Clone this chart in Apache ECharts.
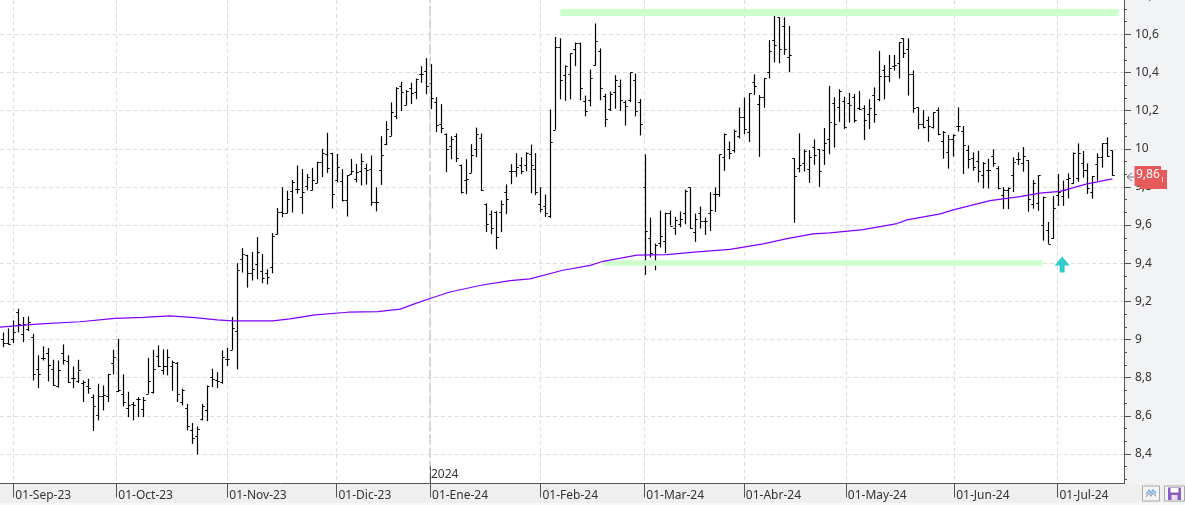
<!DOCTYPE html>
<html><head><meta charset="utf-8">
<style>html,body{margin:0;padding:0;background:#f2f3f5;overflow:hidden}#c{width:1185px;height:505px}</style>
<script src="https://cdn.jsdelivr.net/npm/echarts@6/dist/echarts.min.js"></script>
</head><body><div id="c"></div>
<script>
var highs=[9.037,9.058,9.100,9.161,9.118,9.121,9.030,8.917,8.964,8.955,8.894,8.890,8.974,8.917,8.859,8.894,8.785,8.794,8.712,8.768,8.759,8.820,8.946,9.004,8.817,8.726,8.672,8.698,8.698,8.904,8.946,8.969,8.948,8.948,8.890,8.882,8.742,8.663,8.562,8.544,8.663,8.759,8.847,8.829,8.943,8.957,9.118,9.400,
9.479,9.444,9.459,9.537,9.449,9.368,9.558,9.689,9.798,9.780,9.837,9.912,9.894,9.868,9.900,9.931,10.000,10.084,9.979,9.973,9.894,9.861,9.947,9.921,9.975,9.922,9.965,9.798,
10.066,10.145,10.243,10.323,10.351,10.307,10.346,10.368,10.433,10.475,10.444,10.271,10.234,10.080,10.066,10.080,9.917,9.945,10.024,10.111,10.080,9.713,9.676,9.673,9.729,9.813,9.919,9.977,9.956,9.982,10.022,9.977,9.799,9.760,10.206,
10.586,10.579,10.438,10.501,10.557,10.557,10.279,10.415,10.657,10.526,10.289,10.300,10.386,10.363,10.254,10.400,10.394,10.261,
9.971,9.639,9.503,9.676,9.665,9.676,9.643,9.671,9.786,9.797,9.660,9.697,9.639,9.772,9.797,9.970,10.080,10.038,10.101,10.216,10.269,10.290,
10.390,10.282,10.369,10.570,10.710,10.689,10.689,10.644,9.950,10.081,9.997,9.993,10.049,9.997,10.109,10.329,
10.270,10.312,10.273,10.293,10.287,10.303,10.228,10.259,10.322,10.513,10.439,10.492,10.492,10.558,10.579,10.579,10.411,10.217,10.203,10.169,10.191,10.217,10.093,10.072,10.076,10.217,
10.119,10.018,9.981,9.990,9.930,9.948,9.997,9.909,9.798,9.798,9.955,9.981,10.009,9.941,9.836,9.862,9.749,9.616,9.752,9.868,9.833,9.871,9.981,10.028,9.988,9.923,9.857,9.976,10.028,10.060,9.992];
var lows=[8.960,8.974,8.981,9.037,8.986,9.044,8.785,8.745,8.890,8.780,8.756,8.747,8.869,8.772,8.745,8.772,8.672,8.716,8.520,8.576,8.628,8.672,8.817,8.724,8.649,8.593,8.576,8.593,8.593,8.716,8.716,8.855,8.817,8.812,8.730,8.672,8.654,8.523,8.453,8.397,8.576,8.572,8.750,8.745,8.768,8.861,8.946,8.843,
9.351,9.272,9.309,9.316,9.295,9.289,9.347,9.552,9.642,9.663,9.666,9.765,9.659,9.782,9.782,9.821,9.852,9.873,9.687,9.824,9.724,9.645,9.865,9.824,9.808,9.812,9.701,9.672,
9.811,10.019,10.068,10.155,10.197,10.230,10.234,10.260,10.346,10.286,10.208,10.087,10.082,9.877,9.945,9.930,9.765,9.762,9.874,9.956,9.779,9.563,9.552,9.473,9.563,9.657,9.814,9.853,9.867,9.882,9.767,9.757,9.667,9.643,9.638,
10.100,10.259,10.251,10.259,10.433,10.254,10.170,10.222,10.435,10.254,10.114,10.198,10.210,10.198,10.122,10.244,10.170,10.070,
9.339,9.430,9.363,9.482,9.454,9.597,9.548,9.589,9.604,9.580,9.512,9.582,9.548,9.569,9.669,9.748,9.884,9.945,9.980,10.054,10.076,10.036,
10.282,9.958,10.215,10.369,10.453,10.448,10.492,10.401,9.612,9.876,9.880,9.822,9.916,9.801,9.916,9.971,
10.006,10.141,10.104,10.137,10.137,10.202,10.046,10.104,10.137,10.249,10.259,10.349,10.410,10.368,10.476,10.279,10.189,10.102,10.107,10.037,10.106,10.071,9.948,9.896,9.959,10.090,
9.868,9.897,9.885,9.824,9.792,9.792,9.906,9.787,9.684,9.684,9.773,9.915,9.880,9.670,9.686,9.675,9.518,9.502,9.528,9.701,9.701,9.740,9.815,9.827,9.848,9.763,9.738,9.833,9.901,9.957,9.859];
var opens=[9.004,8.983,9.004,9.144,9.030,9.056,9.013,8.847,8.904,8.931,8.847,8.756,8.931,8.885,8.799,8.784,8.772,8.756,8.700,8.602,8.702,8.702,8.878,8.730,8.716,8.642,8.663,8.689,8.637,8.716,8.726,8.911,8.841,8.859,8.859,8.878,8.672,8.642,8.527,8.494,8.581,8.632,8.803,8.789,8.777,8.897,8.946,9.046,
9.421,9.444,9.347,9.395,9.358,9.347,9.379,9.552,9.666,9.663,9.779,9.789,9.747,9.805,9.784,9.821,9.931,9.973,9.979,9.837,9.830,9.730,9.870,9.842,9.884,9.900,9.894,9.721,
9.888,10.026,10.068,10.174,10.328,10.230,10.321,10.298,10.391,10.409,10.347,10.243,10.132,10.080,10.017,10.068,9.917,9.834,9.875,9.998,10.054,9.713,9.660,9.671,9.666,9.774,9.881,9.884,9.914,9.917,9.970,9.896,9.708,9.699,9.650,
10.100,10.531,10.386,10.394,10.521,10.557,10.249,10.258,10.440,10.514,10.279,10.208,10.300,10.328,10.245,10.258,10.363,10.245,
9.797,9.534,9.409,9.508,9.519,9.665,9.583,9.604,9.665,9.797,9.566,9.665,9.620,9.665,9.765,9.765,9.959,10.001,9.991,10.069,10.169,10.090,
10.348,10.236,10.270,10.401,10.568,10.689,10.642,10.479,9.950,9.897,9.923,9.894,10.007,9.997,9.992,10.049,
10.238,10.217,10.249,10.238,10.270,10.212,10.214,10.181,10.280,10.259,10.411,10.380,10.432,10.448,10.579,10.522,10.391,10.217,10.128,10.149,10.116,10.202,10.039,9.981,10.050,10.118,
10.093,9.993,9.951,9.934,9.862,9.888,9.962,9.897,9.757,9.784,9.862,9.946,9.923,9.941,9.710,9.714,9.600,9.574,9.532,9.757,9.752,9.841,9.819,9.845,9.923,9.888,9.771,9.920,9.958,10.028,9.992];
var closes=[8.983,8.978,9.039,9.083,9.079,9.091,8.820,8.820,8.904,8.868,8.763,8.838,8.894,8.777,8.799,8.841,8.777,8.745,8.653,8.702,8.710,8.820,8.908,8.737,8.672,8.656,8.654,8.689,8.681,8.785,8.847,8.862,8.861,8.908,8.883,8.716,8.733,8.548,8.481,8.529,8.649,8.754,8.794,8.784,8.908,8.897,9.062,9.367,
9.447,9.347,9.368,9.458,9.321,9.326,9.542,9.668,9.663,9.737,9.826,9.789,9.773,9.852,9.837,9.931,9.979,9.900,9.761,9.905,9.730,9.861,9.884,9.879,9.936,9.889,9.721,9.721,
9.965,10.106,10.195,10.321,10.300,10.304,10.290,10.367,10.391,10.328,10.264,10.127,10.111,10.001,10.049,9.954,9.774,9.840,9.965,10.080,9.783,9.608,9.587,9.538,9.708,9.739,9.884,9.907,9.884,9.979,9.917,9.774,9.685,9.664,10.038,
10.536,10.363,10.435,10.500,10.557,10.321,10.198,10.373,10.563,10.321,10.158,10.286,10.358,10.258,10.226,10.400,10.198,10.131,
9.571,9.454,9.494,9.541,9.662,9.597,9.629,9.634,9.776,9.583,9.634,9.620,9.620,9.681,9.762,9.970,10.076,9.980,10.095,10.164,10.106,10.290,
10.327,10.271,10.369,10.511,10.542,10.521,10.521,10.492,9.855,9.913,9.990,9.955,9.967,9.882,10.028,10.138,
10.128,10.301,10.116,10.228,10.149,10.207,10.149,10.212,10.181,10.380,10.380,10.422,10.438,10.558,10.501,10.391,10.212,10.128,10.116,10.118,10.191,10.078,10.088,10.050,10.071,10.118,
10.018,9.944,9.906,9.885,9.923,9.888,9.923,9.796,9.784,9.792,9.930,9.944,9.962,9.736,9.820,9.862,9.749,9.502,9.687,9.775,9.784,9.845,9.979,9.979,9.888,9.792,9.857,9.955,10.028,9.962,9.861];
var maIndex=[-0.68,7.4,15.4,22.4,28.1,33.5,38.5,43,46.2,54.2,57.6,62.7,69.3,75.3,79.8,82.8,85.8,89.8,95.8,101.9,105.9,112.5,118,120.6,127.4,133.4,139.5,146.1,152.8,157.6,162.8,166.2,172.9,179.7,181.7,188.4,191,194.4,198.4,204.4,208.4,212.5,217.9,223];
var maValues=[9.065,9.082,9.093,9.111,9.116,9.124,9.115,9.103,9.098,9.098,9.108,9.129,9.143,9.146,9.159,9.188,9.215,9.249,9.283,9.309,9.318,9.363,9.389,9.410,9.442,9.445,9.459,9.473,9.501,9.529,9.554,9.559,9.576,9.608,9.627,9.659,9.680,9.702,9.728,9.749,9.767,9.777,9.816,9.842];
var monthPositions=[1.99,22.71,45.03,66.98,85.79,108.0,128.88,148.9,169.4,191.2,211.97];
var monthLabels=['01-Sep-23','01-Oct-23','01-Nov-23','01-Dic-23','01-Ene-24','01-Feb-24','01-Mar-24','01-Abr-24','01-May-24','01-Jun-24','01-Jul-24'];
var yearPosition=85.79, yearLabel='2024';
var yTicks=[8.4,8.6,8.8,9,9.2,9.4,9.6,9.8,10,10.2,10.4,10.6];
var clippedTopLabel='10,8';
var resistanceLevel=[112,224.3,10.717];
var supportLevel=[120.8,208.9,9.403];
var signalArrow=[212.9,9.393];
var lastPrice='9,86';

var yMin=8.245,yMax=10.78,xMin=-0.68,xMax=225.34;
var minorTicks=[8.2667,8.3333,10.6667,10.7333];
yTicks.forEach(function(t){if(t<10.6){minorTicks.push(+(t+0.0667).toFixed(4),+(t+0.1333).toFixed(4));}});

var ohlc=highs.map(function(h,i){return [i,opens[i],h,lows[i],closes[i]];});
var ma=maIndex.map(function(x,i){return [x,maValues[i]];});

function renderBar(params,api){
  var i=api.value(0);
  var x=Math.round(api.coord([i,api.value(2)])[0])+0.5;
  var yh=api.coord([i,api.value(2)])[1],yl=api.coord([i,api.value(3)])[1];
  var yo=Math.round(api.coord([i,api.value(1)])[1])+0.5,yc=Math.round(api.coord([i,api.value(4)])[1])+0.5;
  var st={stroke:'#000',lineWidth:1};
  return {type:'group',children:[
    {type:'line',shape:{x1:x,y1:yh,x2:x,y2:yl},style:{stroke:'#000',lineWidth:1.2}},
    {type:'line',shape:{x1:x-2.2,y1:yo,x2:x,y2:yo},style:st},
    {type:'line',shape:{x1:x,y1:yc,x2:x+2.2,y2:yc},style:st}
  ]};
}
var font='"Noto Sans",sans-serif';
var chart=echarts.init(document.getElementById('c'),null,{renderer:'canvas'});
var dashed={type:[4,3],color:'#dddddd',width:1};
chart.setOption({
  animation:false,
  backgroundColor:'#f2f3f5',
  textStyle:{fontFamily:font},
  grid:{left:0,right:61,top:0,bottom:21.5,show:true,backgroundColor:'#ffffff',borderWidth:0,containLabel:false},
  xAxis:{type:'value',min:xMin,max:xMax,
    axisLine:{show:true,onZero:false,lineStyle:{color:'#555555',width:1}},
    axisTick:{show:true,length:14,customValues:monthPositions,lineStyle:{color:'#555555',width:1}},
    axisLabel:{show:true,customValues:monthPositions,margin:6,align:'left',padding:[0,0,0,2],color:'#333333',fontSize:12,fontFamily:font,
      formatter:function(v){var k=monthPositions.indexOf(v);return k>=0?monthLabels[k]:'';}},
    splitLine:{show:true,lineStyle:dashed},minorTick:{show:false},minorSplitLine:{show:false}},
  yAxis:[
   {type:'value',position:'right',min:yMin,max:yMax,
    axisLine:{show:true,onZero:false,lineStyle:{color:'#555555',width:1}},
    axisTick:{show:true,length:7,customValues:yTicks,lineStyle:{color:'#555555',width:1}},
    axisLabel:{show:true,customValues:yTicks,margin:11,padding:[2,0,0,0],color:'#333333',fontSize:12,fontFamily:font,
      formatter:function(v){return String(v).replace('.',',');}},
    splitLine:{show:true,lineStyle:dashed}},
   {type:'value',position:'right',min:yMin,max:yMax,
    axisLine:{show:false,onZero:false},
    axisTick:{show:true,length:3,customValues:minorTicks,lineStyle:{color:'#555555',width:1}},
    axisLabel:{show:false},splitLine:{show:false}}
  ],
  series:[
   {type:'line',name:'levels',data:[],silent:true,z:1,
    markLine:{silent:true,symbol:'none',animation:false,label:{show:false},emphasis:{disabled:true},data:[
      [{coord:[yearPosition,yMin],lineStyle:{color:'#cfcfcf',width:1.6,type:[10,3]}},{coord:[yearPosition,yMax]}],
      [{coord:[resistanceLevel[0],resistanceLevel[2]],lineStyle:{color:'#ccffcc',width:7,type:'solid'}},{coord:[resistanceLevel[1],resistanceLevel[2]]}],
      [{coord:[supportLevel[0],supportLevel[2]],lineStyle:{color:'#ccffcc',width:5.5,type:'solid'}},{coord:[supportLevel[1],supportLevel[2]]}],
      [{coord:[yearPosition,yMin],lineStyle:{color:'#555555',width:1,type:'solid'}},{coord:[yearPosition,8.335]}]
    ]}},
   {type:'custom',name:'OHLC',data:ohlc,renderItem:renderBar,z:4,silent:true,
    dimensions:['i','open','high','low','close'],encode:{x:0,y:[1,2,3,4]}},
   {type:'line',name:'MA',data:ma,showSymbol:false,smooth:false,z:5,silent:true,lineStyle:{color:'#8000ff',width:1.2}},
   {type:'scatter',name:'signal',data:[signalArrow],z:6,silent:true,symbolSize:[15,16],
    symbol:'path://M7.5 0 L15 9 L10 9 L10 16 L5 16 L5 9 L0 9 Z',itemStyle:{color:'#33cccc',opacity:1}}
  ],
  graphic:[
   {type:'rect',silent:true,z:-5,shape:{x:0,y:484,width:1185,height:19},style:{fill:'#efefef'}},
   {type:'rect',silent:true,z:-5,shape:{x:0,y:503,width:1185,height:2},style:{fill:'#f8f8f8'}},
   {type:'text',silent:true,z:10,x:431,y:469,style:{text:yearLabel,fill:'#333333',font:'12px '+font}},
   {type:'text',silent:true,z:10,x:1135,y:-10,style:{text:clippedTopLabel,fill:'#333333',font:'12px '+font}},
   {type:'rect',silent:true,z:10,shape:{x:1140,y:170,width:27,height:19},style:{fill:'#e85a5a'}},
   {type:'rect',silent:true,z:11,shape:{x:1134.5,y:166,width:26.5,height:20},style:{fill:'#e85a5a'}},
   {type:'text',silent:true,z:12,x:1136,y:169,style:{text:lastPrice,fill:'#ffffff',font:'12px '+font}},
   {type:'rect',silent:true,z:12,shape:{x:1162,y:177,width:1,height:5},style:{fill:'#ffd8d0'}},
   {type:'polyline',silent:true,z:12,shape:{points:[[1132,173],[1127,177],[1132,181]]},style:{stroke:'#777777',fill:'none',lineWidth:1}},
   {type:'line',silent:true,z:12,shape:{x1:1127,y1:177,x2:1134,y2:177},style:{stroke:'#777777',lineWidth:1}},
   {type:'rect',silent:true,z:12,shape:{x:1142.5,y:486,width:17,height:15},style:{fill:'#f4f4f4',stroke:'#aaaaaa',lineWidth:1}},
   {type:'polyline',silent:true,z:13,shape:{points:[[1146,494],[1149,490],[1151,493],[1153,490],[1156,493]]},style:{stroke:'#6aa5d8',fill:'none',lineWidth:1.2}},
   {type:'polyline',silent:true,z:13,shape:{points:[[1146,497],[1149,493],[1151,496],[1153,493],[1156,496]]},style:{stroke:'#8fa8c0',fill:'none',lineWidth:1.2}},
   {type:'rect',silent:true,z:12,shape:{x:1164.5,y:486,width:20,height:15},style:{fill:'#f4f4f4',stroke:'#aaaaaa',lineWidth:1}},
   {type:'rect',silent:true,z:13,shape:{x:1168,y:487.5,width:13,height:12.5},style:{fill:'#8a5cc0'}},
   {type:'rect',silent:true,z:14,shape:{x:1170.5,y:488,width:8,height:4.5},style:{fill:'#ffffff'}},
   {type:'rect',silent:true,z:14,shape:{x:1171.5,y:495,width:6,height:5},style:{fill:'#e8dff2'}}
  ]
});
</script></body></html>
